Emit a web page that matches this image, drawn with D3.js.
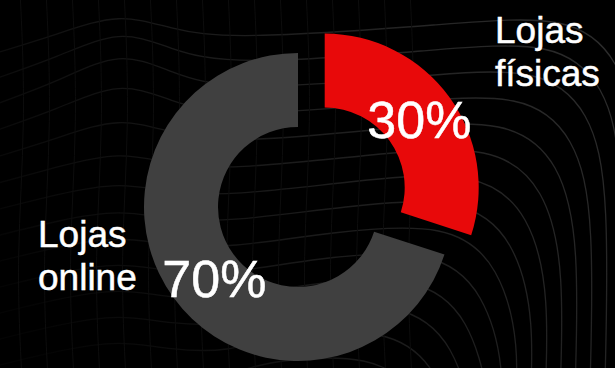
<!DOCTYPE html>
<html>
<head>
<meta charset="utf-8">
<script src="https://cdn.jsdelivr.net/npm/d3@7"></script>
<style>
  html, body { margin: 0; padding: 0; background: #000; }
  svg { display: block; }
  text { font-family: "Liberation Sans", Arial, Helvetica, sans-serif; fill: #fff; stroke: #fff; stroke-width: 0.5; }
</style>
</head>
<body>
<svg id="chart" width="615" height="368"></svg>
<script>
// Share of purchases by channel
const categories = ["Lojas físicas", "Lojas online"];
const shares = [30, 70];
const labelLines = [["Lojas", "físicas"], ["Lojas", "online"]];

const W = 615, H = 368;
const svg = d3.select("#chart");

svg.append("rect").attr("width", W).attr("height", H).attr("fill", "#000");

// ---- decorative contour backdrop ----
const defs = svg.append("defs");
const fade = defs.append("linearGradient")
  .attr("id", "fade").attr("gradientUnits", "userSpaceOnUse")
  .attr("x1", 60).attr("y1", 368).attr("x2", 600).attr("y2", 40);
fade.append("stop").attr("offset", "0%").attr("stop-color", "#040404");
fade.append("stop").attr("offset", "45%").attr("stop-color", "#1a1a1a");
fade.append("stop").attr("offset", "100%").attr("stop-color", "#2c2c2c");

const bg = svg.append("g").attr("fill", "none").attr("stroke", "url(#fade)").attr("stroke-width", 1.3);
const contour = d3.line().curve(d3.curveBasis);
for (let k = 0; k < 14; k++) {
  const y = 28 + 26 * k;           // horizontal level on the left
  const x = 640 - 15 * k;           // vertical position on the right
  const bump = 30 * Math.exp(-Math.pow(k - 2, 2) / 6);
  const pts = [
    [-20, y + 30],
    [60, y + 10 - bump * 0.3],
    [120, y - bump],
    [170, y - bump * 0.6 + 10],
    [230, y + 12],
    [x - 190, y - 4],
    [x - 70, y - 14],
    [x - 20, y + 30],
    [x, y + 110],
    [x - 6, 420]
  ];
  bg.append("path").attr("d", contour(pts));
}
// faint cross lines of the mesh
const mesh = svg.append("g").attr("fill", "none").attr("stroke", "#0d0d0d").attr("stroke-width", 1);
for (let j = 0; j < 16; j++) {
  const x0 = 20 + 26 * j;
  mesh.append("path").attr("d", contour([[x0, -10], [x0 + 6, 120], [x0 - 4, 260], [x0 + 2, 380]]));
}

// ---- donut ----
const cx = 298, cy = 207, rOuter = 154, rInner = 80, explode = 33;
const colors = d3.scaleOrdinal().domain(categories).range(["#e8090a", "#404040"]);

const pie = d3.pie().sort(null).value(d => d.value);
const arcs = pie(categories.map((c, i) => ({ name: c, value: shares[i] })));
const arc = d3.arc().innerRadius(rInner).outerRadius(rOuter);

const g = svg.append("g").attr("transform", `translate(${cx},${cy})`);

function shift(d) {
  if (d.index !== 0) return [0, 0];
  const a = (d.startAngle + d.endAngle) / 2;
  return [Math.sin(a) * explode, -Math.cos(a) * explode];
}

g.selectAll("path.slice").data(arcs).join("path")
  .attr("class", "slice")
  .attr("d", arc)
  .attr("fill", d => colors(d.data.name))
  .attr("transform", d => `translate(${shift(d)})`);

// percentage labels at the slice centroids
const nudge = [[0, 0], [11, 2]];
g.selectAll("text.pct").data(arcs).join("text")
  .attr("class", "pct")
  .attr("text-anchor", "middle")
  .attr("dy", "0.36em")
  .attr("font-size", 52)
  .attr("transform", d => {
    const c = arc.centroid(d), s = shift(d), n = nudge[d.index];
    return `translate(${c[0] + s[0] + n[0]},${c[1] + s[1] + n[1]})`;
  })
  .text(d => d.data.value + "%");

// category labels
const labelPos = [[495, 43], [38, 247]];
labelLines.forEach((lines, i) => {
  const t = svg.append("text")
    .attr("x", labelPos[i][0]).attr("y", labelPos[i][1])
    .attr("font-size", 37);
  lines.forEach((ln, j) => {
    t.append("tspan").attr("x", labelPos[i][0]).attr("dy", j === 0 ? 0 : 42.5).text(ln);
  });
});
</script>
</body>
</html>
